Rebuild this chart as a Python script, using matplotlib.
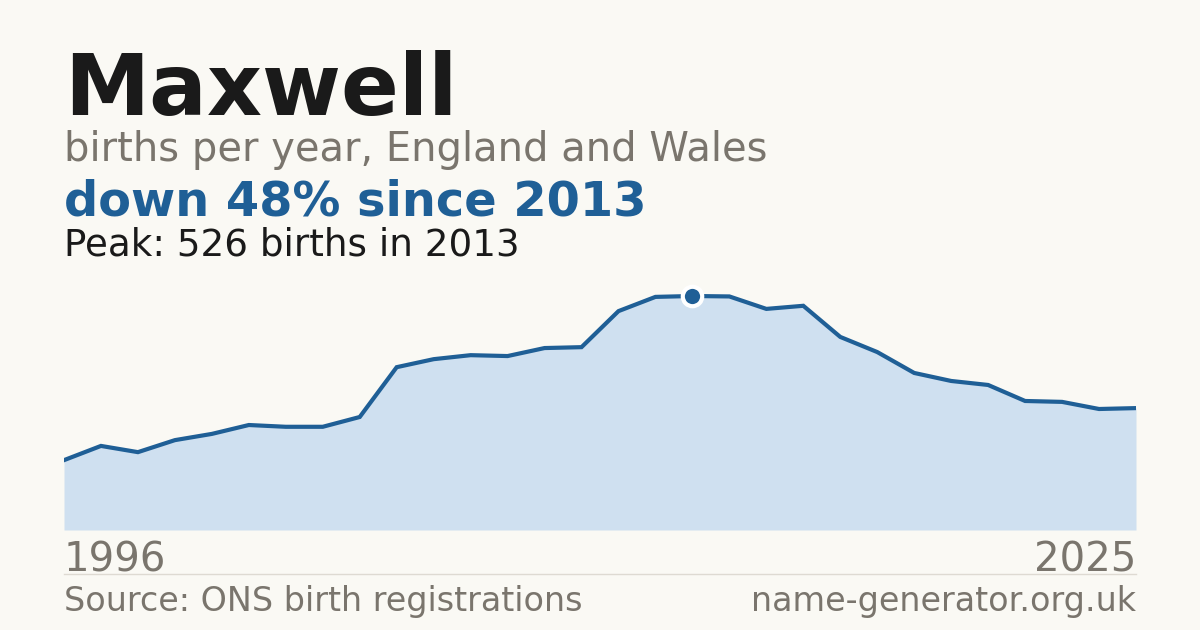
import matplotlib
matplotlib.use("Agg")
import matplotlib.pyplot as plt

plt.rcParams["font.family"] = ["DejaVu Sans"]

# births per year for the name
years = list(range(1996, 2026))
births = [157, 189, 175, 202, 216, 236, 232, 232, 254, 366,
          384, 393, 391, 409, 411, 492, 524, 526, 525, 497,
          504, 434, 400, 353, 335, 326, 290, 288, 272, 274]

name = "Maxwell"
subtitle = "births per year, England and Wales"
source = "Source: ONS birth registrations"
site = "name-generator.org.uk"

BG = "#faf9f4"
BLUE = "#1f5f96"
FILL = "#cfe0f0"
GREY = "#7a756d"
DARK = "#1a1a1a"

W, H = 1200, 630
fig = plt.figure(figsize=(W / 100, H / 100), dpi=100, facecolor=BG)

def fx(px):
    return px / W

def fy(py):
    return 1 - py / H

peak_i = births.index(max(births))
peak_year = years[peak_i]
change = round((births[-1] - births[peak_i]) / births[peak_i] * 100)

# header texts
fig.text(fx(64), fy(115), name, fontsize=61.6, fontweight="bold", color=DARK, va="baseline")
fig.text(fx(64), fy(161), subtitle, fontsize=28.8, color=GREY, va="baseline")
fig.text(fx(64), fy(215), f"down {abs(change)}% since {peak_year}", fontsize=34.5,
         fontweight="bold", color=BLUE, va="baseline")
fig.text(fx(64), fy(255), f"Peak: {births[peak_i]} births in {peak_year}", fontsize=26.8,
         color=DARK, va="baseline")

# area chart
top_px, base_px = 260, 530
ax = fig.add_axes([fx(64), fy(base_px), fx(1136) - fx(64), (base_px - top_px) / H])
ax.set_facecolor(BG)
ymax = max(births) * (base_px - top_px) / (base_px - 296)
ax.fill_between(years, births, 0, color=FILL, lw=0)
ax.plot(years, births, color=BLUE, lw=3, solid_joinstyle="miter")
ax.plot([peak_year], [births[peak_i]], "o", ms=14, color=BLUE, mec="white", mew=3,
        clip_on=False, zorder=5)
ax.set_xlim(years[0], years[-1])
ax.set_ylim(0, ymax)
ax.axis("off")

# year labels and footer
fig.text(fx(64), fy(571), str(years[0]), fontsize=29, color=GREY, va="baseline")
fig.text(fx(1136), fy(571), str(years[-1]), fontsize=29, color=GREY, va="baseline", ha="right")
fig.add_artist(plt.Line2D([fx(64), fx(1136)], [fy(574), fy(574)], color="#dedad2", lw=1))
fig.text(fx(64), fy(611), source, fontsize=24, color=GREY, va="baseline")
fig.text(fx(1136), fy(611), site, fontsize=24, color=GREY, va="baseline", ha="right")

fig.savefig("out.png", dpi=100, facecolor=BG)
